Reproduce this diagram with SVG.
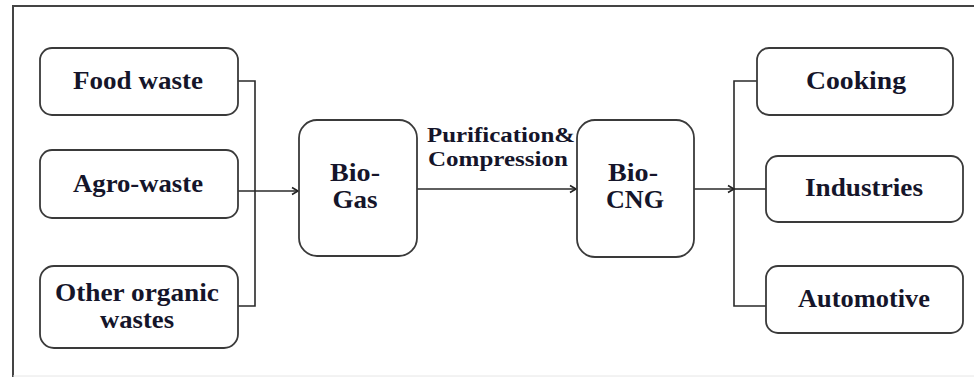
<svg xmlns="http://www.w3.org/2000/svg" width="974" height="377" viewBox="0 0 974 377">
<defs>
<marker id="arr" markerWidth="10" markerHeight="10" refX="8" refY="5" orient="auto" markerUnits="userSpaceOnUse">
<polyline points="2,1.5 8,5 2,8.5" fill="none" stroke="#222" stroke-width="1.6"/>
</marker>
<style>
.box{fill:#fff;stroke:#3a3a3a;stroke-width:1.8}
.t{font-family:'Liberation Serif','Times New Roman',serif;font-weight:bold;font-size:25px;fill:#15152a;text-anchor:middle}
.s{font-family:'Liberation Serif','Times New Roman',serif;font-weight:bold;font-size:20px;fill:#15152a}
.ln{fill:none;stroke:#2a2a2a;stroke-width:1.6}
</style>
</defs>
<rect width="974" height="377" fill="#fff"/>
<g id="frame">
<polyline points="13,377 13,6 974,6" fill="none" stroke="#444" stroke-width="2"/>
<line x1="13" y1="376" x2="974" y2="376" stroke="#e6e6e6" stroke-width="1"/>
</g>
<g id="connectors">
<polyline class="ln" points="238,81 255,81 255,306 238,306"/>
<line class="ln" x1="238" y1="191" x2="298" y2="191" marker-end="url(#arr)"/>
<line class="ln" x1="417" y1="189" x2="576" y2="189" marker-end="url(#arr)"/>
<line class="ln" x1="694" y1="189" x2="734" y2="189" marker-end="url(#arr)"/>
<polyline class="ln" points="757,81 734,81 734,306 766,306"/>
<line class="ln" x1="734" y1="189" x2="766" y2="189"/>
<text class="s" x="427" y="142" textLength="148" lengthAdjust="spacingAndGlyphs">Purification&amp;</text>
<text class="s" x="428" y="166" textLength="140" lengthAdjust="spacingAndGlyphs">Compression</text>
</g>
<g id="food">
<rect class="box" x="40" y="48" width="198" height="67" rx="12"/>
<text class="t" x="138" y="89" textLength="130" lengthAdjust="spacingAndGlyphs">Food waste</text>
</g>
<g id="agro">
<rect class="box" x="40" y="150" width="198" height="68" rx="12"/>
<text class="t" x="138" y="192" textLength="130" lengthAdjust="spacingAndGlyphs">Agro-waste</text>
</g>
<g id="other">
<rect class="box" x="40" y="266" width="198" height="82" rx="14"/>
<text class="t" x="137" y="301" textLength="164" lengthAdjust="spacingAndGlyphs">Other organic</text>
<text class="t" x="137" y="328" textLength="74" lengthAdjust="spacingAndGlyphs">wastes</text>
</g>
<g id="biogas">
<rect class="box" x="299" y="120" width="118" height="136" rx="18"/>
<text class="t" x="355" y="181" textLength="50" lengthAdjust="spacingAndGlyphs">Bio-</text>
<text class="t" x="355" y="208" textLength="45" lengthAdjust="spacingAndGlyphs">Gas</text>
</g>
<g id="biocng">
<rect class="box" x="577" y="120" width="117" height="137" rx="18"/>
<text class="t" x="633" y="181" textLength="50" lengthAdjust="spacingAndGlyphs">Bio-</text>
<text class="t" x="635" y="208" textLength="58" lengthAdjust="spacingAndGlyphs">CNG</text>
</g>
<g id="cooking">
<rect class="box" x="757" y="48" width="196" height="67" rx="12"/>
<text class="t" x="856" y="89" textLength="100" lengthAdjust="spacingAndGlyphs">Cooking</text>
</g>
<g id="industries">
<rect class="box" x="766" y="156" width="197" height="66" rx="12"/>
<text class="t" x="864" y="196" textLength="118" lengthAdjust="spacingAndGlyphs">Industries</text>
</g>
<g id="automotive">
<rect class="box" x="766" y="266" width="197" height="67" rx="12"/>
<text class="t" x="864" y="307" textLength="132" lengthAdjust="spacingAndGlyphs">Automotive</text>
</g>
</svg>
